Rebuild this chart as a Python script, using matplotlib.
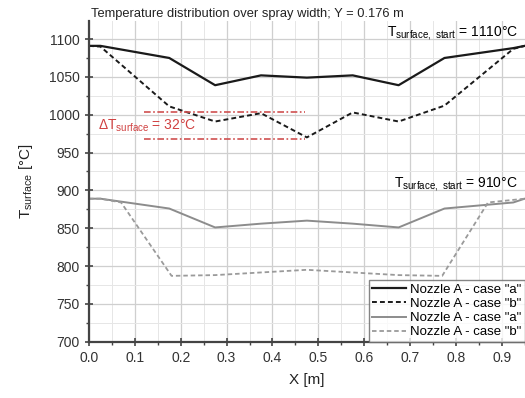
import numpy as np
import matplotlib
matplotlib.use('Agg')
import matplotlib.pyplot as plt
from matplotlib.ticker import MultipleLocator

plt.rcParams['font.family'] = ['Liberation Sans', 'DejaVu Sans']
plt.rcParams['mathtext.fontset'] = 'custom'
plt.rcParams['mathtext.rm'] = 'Liberation Sans'

# Данные
x = [0.0, 0.025, 0.175, 0.275, 0.375, 0.475, 0.575, 0.675, 0.775, 0.925, 0.95]
hot_a = [1091, 1091, 1075, 1039, 1052, 1049, 1052, 1039, 1075, 1088, 1091]
hot_b = [1091, 1090, 1011, 991, 1002, 970, 1003, 991, 1012, 1087, 1091]

x_cold_b = [0.0, 0.025, 0.07, 0.18, 0.275, 0.475, 0.675, 0.77, 0.87, 0.95]
cold_a = [889, 889, 876, 851, 856, 860, 856, 851, 876, 884, 889]
cold_b = [889, 889, 884, 787, 788, 795, 788, 787, 884, 889]

delta_lines = [1003, 968]
delta_x = [0.12, 0.47]

labels = ['Nozzle A - case "a"', 'Nozzle A - case "b"',
          'Nozzle A - case "a"', 'Nozzle A - case "b"']

fig = plt.figure(figsize=(5.25, 3.98), dpi=100)
ax = fig.add_axes([0.1695, 0.1415, 0.83, 0.806])

ax.plot(x, hot_a, color='#1a1a1a', lw=1.6, label=labels[0])
ax.plot(x, hot_b, color='#1a1a1a', lw=1.4, ls=(0, (2.5, 1.6)), label=labels[1])
ax.plot(x, cold_a, color='#8c8c8c', lw=1.4, label=labels[2])
ax.plot(x_cold_b, cold_b, color='#9a9a9a', lw=1.3, ls=(0, (2.5, 1.6)), label=labels[3])

# красные линии разницы
for yv in delta_lines:
    ax.plot(delta_x, [yv, yv], color='#d05050', lw=1.2, ls=(0, (4, 1.5, 1, 1.5)))
ax.text(0.02, 985, r'$\Delta\mathrm{T}_{\mathrm{surface}}$ = 32°C', color='#d04040',
        fontsize=10, va='center')

ax.text(0.935, 1108, r'$\mathrm{T}_{\mathrm{surface,\ start}}$ = 1110°C', fontsize=10,
        ha='right', va='center')
ax.text(0.935, 908, r'$\mathrm{T}_{\mathrm{surface,\ start}}$ = 910°C', fontsize=10,
        ha='right', va='center')

ax.set_xlim(0, 0.95)
ax.set_ylim(700, 1124)
ax.xaxis.set_major_locator(MultipleLocator(0.1))
ax.xaxis.set_minor_locator(MultipleLocator(0.05))
ax.yaxis.set_major_locator(MultipleLocator(50))
ax.yaxis.set_minor_locator(MultipleLocator(25))
ax.set_xticks(np.arange(0, 0.91, 0.1))
ax.set_xticklabels(['%.1f' % v for v in np.arange(0, 0.91, 0.1)])

ax.grid(which='major', color='#cfcfcf', lw=0.9)
ax.grid(which='minor', color='#e6e6e6', lw=0.7)
ax.set_axisbelow(True)

for s in ['top', 'right']:
    ax.spines[s].set_visible(False)
for s in ['left', 'bottom']:
    ax.spines[s].set_color('#444444')
    ax.spines[s].set_linewidth(1.6)
ax.tick_params(which='major', direction='inout', length=6, width=1.2, colors='#444444',
               labelsize=10, labelcolor='#333333')
ax.tick_params(which='minor', direction='out', length=2.5, width=1.0, colors='#444444')

ax.set_xlabel('X [m]', fontsize=11, color='#222222', labelpad=6)
ax.set_ylabel(r'$\mathrm{T}_{\mathrm{surface}}$ [°C]', fontsize=11, color='#222222',
              labelpad=10)
ax.set_title('Temperature distribution over spray width; Y = 0.176 m', fontsize=9.3,
             loc='left', pad=3, color='#222222', x=0.005)

leg = ax.legend(loc='lower right', fontsize=9.5, frameon=True, fancybox=False,
                edgecolor='#666666', borderpad=0.25, labelspacing=0.15,
                handlelength=2.6, handletextpad=0.3, borderaxespad=0.0)
leg.get_frame().set_linewidth(1.0)

fig.savefig('out.png', dpi=100)
